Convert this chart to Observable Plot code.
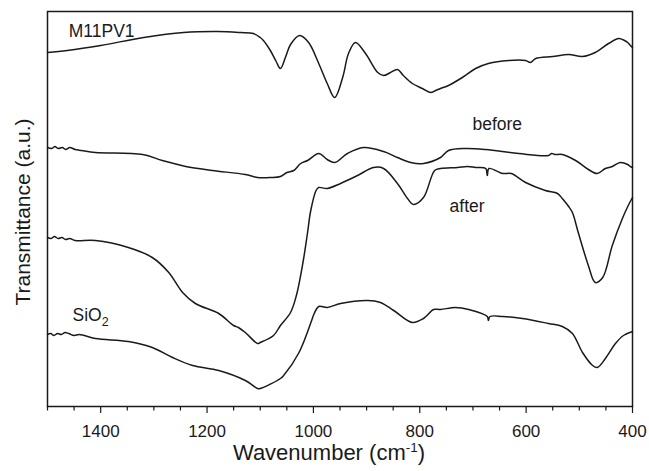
<!DOCTYPE html>
<html>
<head>
<meta charset="utf-8">
<script src="https://cdn.jsdelivr.net/npm/d3@7"></script>
<script src="https://cdn.jsdelivr.net/npm/@observablehq/plot@0.6"></script>
<style>
  html, body { margin: 0; padding: 0; background: #fff; }
  #chart svg { display: block; }
</style>
</head>
<body>
<div id="chart"></div>
<script>
// Spectra: [wavenumber (cm-1), transmittance (a.u.)]
const m11pv1 = [
  [1500,354],[1463,356],[1400,361],[1319,369],[1244,374],[1180,375],[1137,374],[1113,373],
  [1100,369],[1094,366],[1081,356],[1070,345],[1062,338],[1052,350],[1043,362],[1026,371],
  [1009,364],[990,343],[974,323],[960,309],[945,329],[934,353],[921,364],[902,353],[879,334],
  [868,331],[855,334],[842,337],[831,331],[814,323],[795,318],[780,314],[770,316],[761,318],
  [746,321],[720,329],[695,338],[671,343],[633,346],[601,346],[592,344],[582,348],[550,350],
  [520,352],[494,350],[470,354],[445,363],[426,368],[415,366],[409,364],[404,361],[400,359]
];
const before = [
  [1500,259],[1492,258],[1486,260],[1480,258],[1472,259],[1466,257],[1458,259],[1448,257],
  [1436,256],[1410,254],[1321,252],[1284,246],[1240,240],[1190,236],[1128,232],[1105,229],
  [1080,229],[1062,230],[1050,234],[1037,236],[1024,243],[1011,246],[990,253],[974,247],
  [960,244],[936,253],[906,259],[868,255],[842,249],[817,244],[793,243],[761,249],[746,256],
  [714,258],[676,257],[614,253],[558,251],[552,253],[546,252],[532,252],[507,246],[483,237],
  [466,233],[451,238],[438,240],[423,244],[409,242],[404,240],[400,239]
];
const after = [
  [1500,169],[1493,168],[1487,170],[1480,168],[1473,169],[1466,167],[1458,168],[1448,166],
  [1410,166],[1348,159],[1303,149],[1272,134],[1246,114],[1222,103],[1178,93],[1150,81],
  [1141,79],[1128,74],[1105,63],[1100,64],[1075,71],[1062,81],[1043,94],[1032,111],
  [1019,146],[1011,174],[1005,196],[995,216],[990,219],[974,218],[949,223],[917,231],
  [887,239],[868,238],[842,223],[823,208],[812,202],[793,209],[772,236],[761,238],[729,239],
  [710,240],[695,239],[676,238],[673,231],[670,238],[644,233],[628,233],[601,224],[564,216],
  [541,213],[532,208],[520,200],[513,194],[502,174],[483,141],[470,124],[456,129],[438,161],
  [419,188],[408,201],[400,209]
];
const sio2 = [
  [1500,72],[1494,73],[1488,71],[1481,73],[1474,72],[1467,74],[1460,73],[1450,71],[1440,72],
  [1410,68],[1348,65],[1303,59],[1265,49],[1227,41],[1178,36],[1128,26],[1105,18],[1100,18],
  [1062,28],[1056,31],[1027,54],[1002,88],[1000,91],[990,100],[974,99],[949,103],[898,106],
  [874,104],[849,96],[814,84],[793,88],[774,97],[761,97],[733,99],[708,97],[673,90],[671,86],
  [668,90],[644,90],[607,88],[558,83],[532,80],[513,73],[494,54],[475,41],[466,39],[451,48],
  [432,63],[417,71],[400,75]
];

const seriesNames = ["M11PV1", "before", "after", "SiO2"];
const seriesData = [m11pv1, before, after, sio2];

// Annotation labels
const labelText = ["M11PV1", "before", "after", "SiO2"];
const labelWn = [1460, 701, 744, 1453];
const labelT = [375, 282, 200, 91];

// Axis ticks
const majorTicks = [1400, 1200, 1000, 800, 600, 400];
const minorTicks = [1500, 1450, 1350, 1300, 1250, 1150, 1100, 1050, 950, 900, 850, 750, 700, 650, 550, 500, 450];

const rows = seriesNames.flatMap((s, i) => seriesData[i].map(([wn, t]) => ({series: s, wn, t})));
const labels = labelText.map((text, i) => ({text, wn: labelWn[i], t: labelT[i]}));

const ink = "#1a1a1a";
const font = "Liberation Sans, Arial, Helvetica, sans-serif";

const svg = Plot.plot({
  width: 649,
  height: 471,
  marginLeft: 47,
  marginRight: 17,
  marginTop: 11,
  marginBottom: 65,
  style: {fontFamily: font, color: ink, background: "#fff"},
  x: {domain: [1500, 400], label: null},
  y: {domain: [0, 395], axis: null},
  marks: [
    Plot.axisX({ticks: minorTicks, tickSize: 4.5, tickFormat: () => "", stroke: ink, strokeWidth: 1.2, label: null}),
    Plot.axisX({ticks: majorTicks, tickSize: 7, tickPadding: 11, fontSize: 17, fill: ink, stroke: ink, strokeWidth: 1.2, label: null, tickFormat: d => String(d)}),
    Plot.line(rows, {x: "wn", y: "t", z: "series", stroke: ink, strokeWidth: 1.5, curve: "catmull-rom"}),
    Plot.text(labels, {x: "wn", y: "t", text: "text", textAnchor: "start", fontSize: 17.5, fill: ink}),
    Plot.text(["Transmittance (a.u.)"], {frameAnchor: "left", textAnchor: "middle", rotate: -90, dx: -24, dy: 3, fontSize: 21, fill: ink}),
    Plot.frame({stroke: ink, strokeWidth: 1.5})
  ]
});

// Subscript for SiO2
d3.select(svg).selectAll("text").filter(function() { return this.textContent === "SiO2"; }).each(function() {
  const t = d3.select(this);
  t.text("");
  t.append("tspan").text("SiO");
  t.append("tspan").attr("dy", 5).attr("font-size", 12.5).text("2");
});

// X axis title with superscript
const xt = d3.select(svg).append("text")
  .attr("x", 329).attr("y", 460)
  .attr("text-anchor", "middle")
  .attr("font-size", 22)
  .attr("font-family", font)
  .attr("fill", ink);
xt.append("tspan").text("Wavenumber (cm");
xt.append("tspan").attr("dy", -8).attr("font-size", 13.5).text("-1");
xt.append("tspan").attr("dy", 8).text(")");

document.getElementById("chart").appendChild(svg);
</script>
</body>
</html>
